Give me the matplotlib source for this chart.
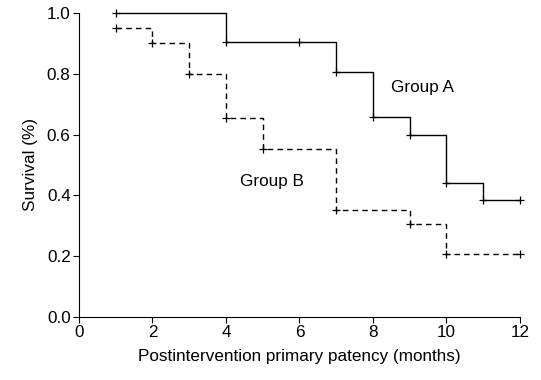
import matplotlib
matplotlib.use("Agg")
import matplotlib.pyplot as plt

plt.rcParams['font.family'] = ['Liberation Sans', 'DejaVu Sans']

# Group A: tempos das quedas e sobrevida
time_a = [1, 4, 6, 7, 8, 9, 10, 11, 12]
surv_a = [1.0, 0.905, 0.905, 0.806, 0.658, 0.60, 0.44, 0.385, 0.385]

# Group B
time_b = [1, 2, 3, 4, 5, 7, 9, 10, 12]
surv_b = [0.95, 0.90, 0.80, 0.654, 0.552, 0.352, 0.306, 0.207, 0.207]

x_ticks = [0, 2, 4, 6, 8, 10, 12]
y_ticks = [0.0, 0.2, 0.4, 0.6, 0.8, 1.0]

fs = 12.3

fig = plt.figure(figsize=(5.41, 3.80), dpi=100)
ax = fig.add_axes([0.146, 0.166, 0.815, 0.800])

# Curvas em degrau
ax.step(time_a, surv_a, where='post', color='black', linewidth=1.0, clip_on=False)
ax.step(time_b, surv_b, where='post', color='black', linewidth=1.0,
        linestyle=(0, (4, 3)), clip_on=False)

# Marcas de censura
ax.plot(time_a, surv_a, '+', color='black', markersize=6, markeredgewidth=0.9, clip_on=False)
ax.plot(time_b, surv_b, '+', color='black', markersize=6, markeredgewidth=0.9, clip_on=False)

ax.text(8.49, 0.755, 'Group A', fontsize=fs, va='center', ha='left')
ax.text(4.38, 0.445, 'Group B', fontsize=fs, va='center', ha='left')

ax.set_xlim(0, 12)
ax.set_ylim(0, 1.0)
ax.set_xticks(x_ticks)
ax.set_yticks(y_ticks)
ax.set_yticklabels([f'{v:.1f}' for v in y_ticks])
ax.tick_params(direction='out', length=4, width=0.8, labelsize=fs, pad=2)

ax.spines['top'].set_visible(False)
ax.spines['right'].set_visible(False)
ax.spines['left'].set_linewidth(0.8)
ax.spines['bottom'].set_linewidth(0.8)

ax.set_xlabel('Postintervention primary patency (months)', fontsize=fs, labelpad=6)
ax.set_ylabel('Survival (%)', fontsize=fs, labelpad=6)

fig.savefig('out.png', dpi=100)
